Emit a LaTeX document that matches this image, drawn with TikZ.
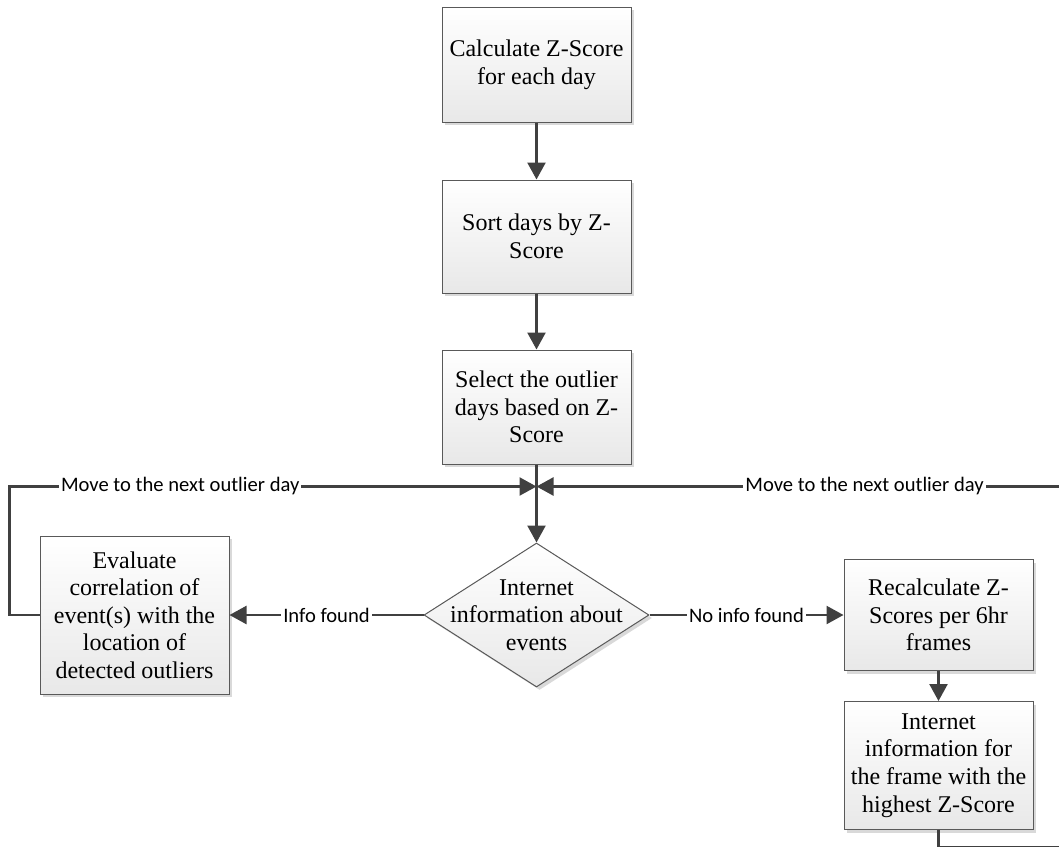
\documentclass[tikz,border=0pt]{standalone}
\usepackage{fontspec}
\setmainfont{Liberation Serif}
\newfontfamily\labelfont{Carlito}
\usepackage{tikz}
\usetikzlibrary{positioning,shapes.geometric,shadows,arrows.meta}

\begin{document}
\begin{tikzpicture}[x=0.5pt,y=-0.5pt,
process/.style={
rectangle,
draw=black!65,
line width=0.5pt,
top color=white,
bottom color=black!9,
drop shadow={shadow xshift=1.5pt,shadow yshift=-1.5pt,fill=black!25,opacity=0.6},
minimum width=94.5pt,
minimum height=57pt,
inner sep=0pt,
align=center,
font=\fontsize{12}{13.8}\selectfont
},
decision/.style={
diamond,
draw=black!65,
line width=0.5pt,
top color=white,
bottom color=black!9,
drop shadow={shadow xshift=1.5pt,shadow yshift=-1.5pt,fill=black!25,opacity=0.6},
minimum width=112.5pt,
minimum height=72pt,
inner sep=0pt
},
to/.style={-{Triangle[length=8.5pt,width=9pt]},line width=1.2pt,draw=black!75},
tag/.style={fill=white,inner sep=1pt,text=black,font=\labelfont\fontsize{10.3}{12}\selectfont}
]
\useasboundingbox (0,0) rectangle (1059,846);
\clip (0,0) rectangle (1059,846);

\node (calc) [process, minimum height=57.5pt] at (536.5,64.5) {Calculate Z-Score\\for each day};
\node (sort) [process, below=28.5pt of calc, minimum height=56.5pt] {Sort days by Z-\\Score};
\node (select) [process, below=28pt of sort] {Select the outlier\\days based on Z-\\Score};
\node (info) [decision, below=39pt of select,
  label={[align=center,font=\fontsize{12}{13.8}\selectfont]center:{Internet\\information about\\events}}] {};
\node (eval) [process, left=97pt of info, minimum height=79pt] {Evaluate\\correlation of\\event(s) with the\\location of\\detected outliers};
\node (recalc) [process, right=97pt of info, minimum height=55.5pt] {Recalculate Z-\\Scores per 6hr\\frames};
\node (frame) [process, below=15pt of recalc, minimum height=64pt] {Internet\\information for\\the frame with the\\highest Z-Score};
\coordinate (merge) at ([yshift=-11pt]select.south);

\draw[to] (calc) -- (sort);
\draw[to] (sort) -- (select);
\draw[to] (select) -- (info);
\draw[to] (info.west) -- node[tag,midway]{Info found} (eval.east);
\draw[to] (info.east) -- node[tag,midway]{No info found} (recalc.west);
\draw[to] (recalc) -- (frame);
\draw[to] (eval.west) -- ++(-15pt,0) coordinate (lc) -- (lc |- merge) -- node[tag,pos=0.324]{Move to the next outlier day} (merge);
\draw[to] (frame.south) -- ++(0,-8.5pt) -- ++(67pt,0) coordinate (rc) -- (rc |- merge) -- node[tag,pos=0.388]{Move to the next outlier day} (merge);
\end{tikzpicture}
\end{document}
